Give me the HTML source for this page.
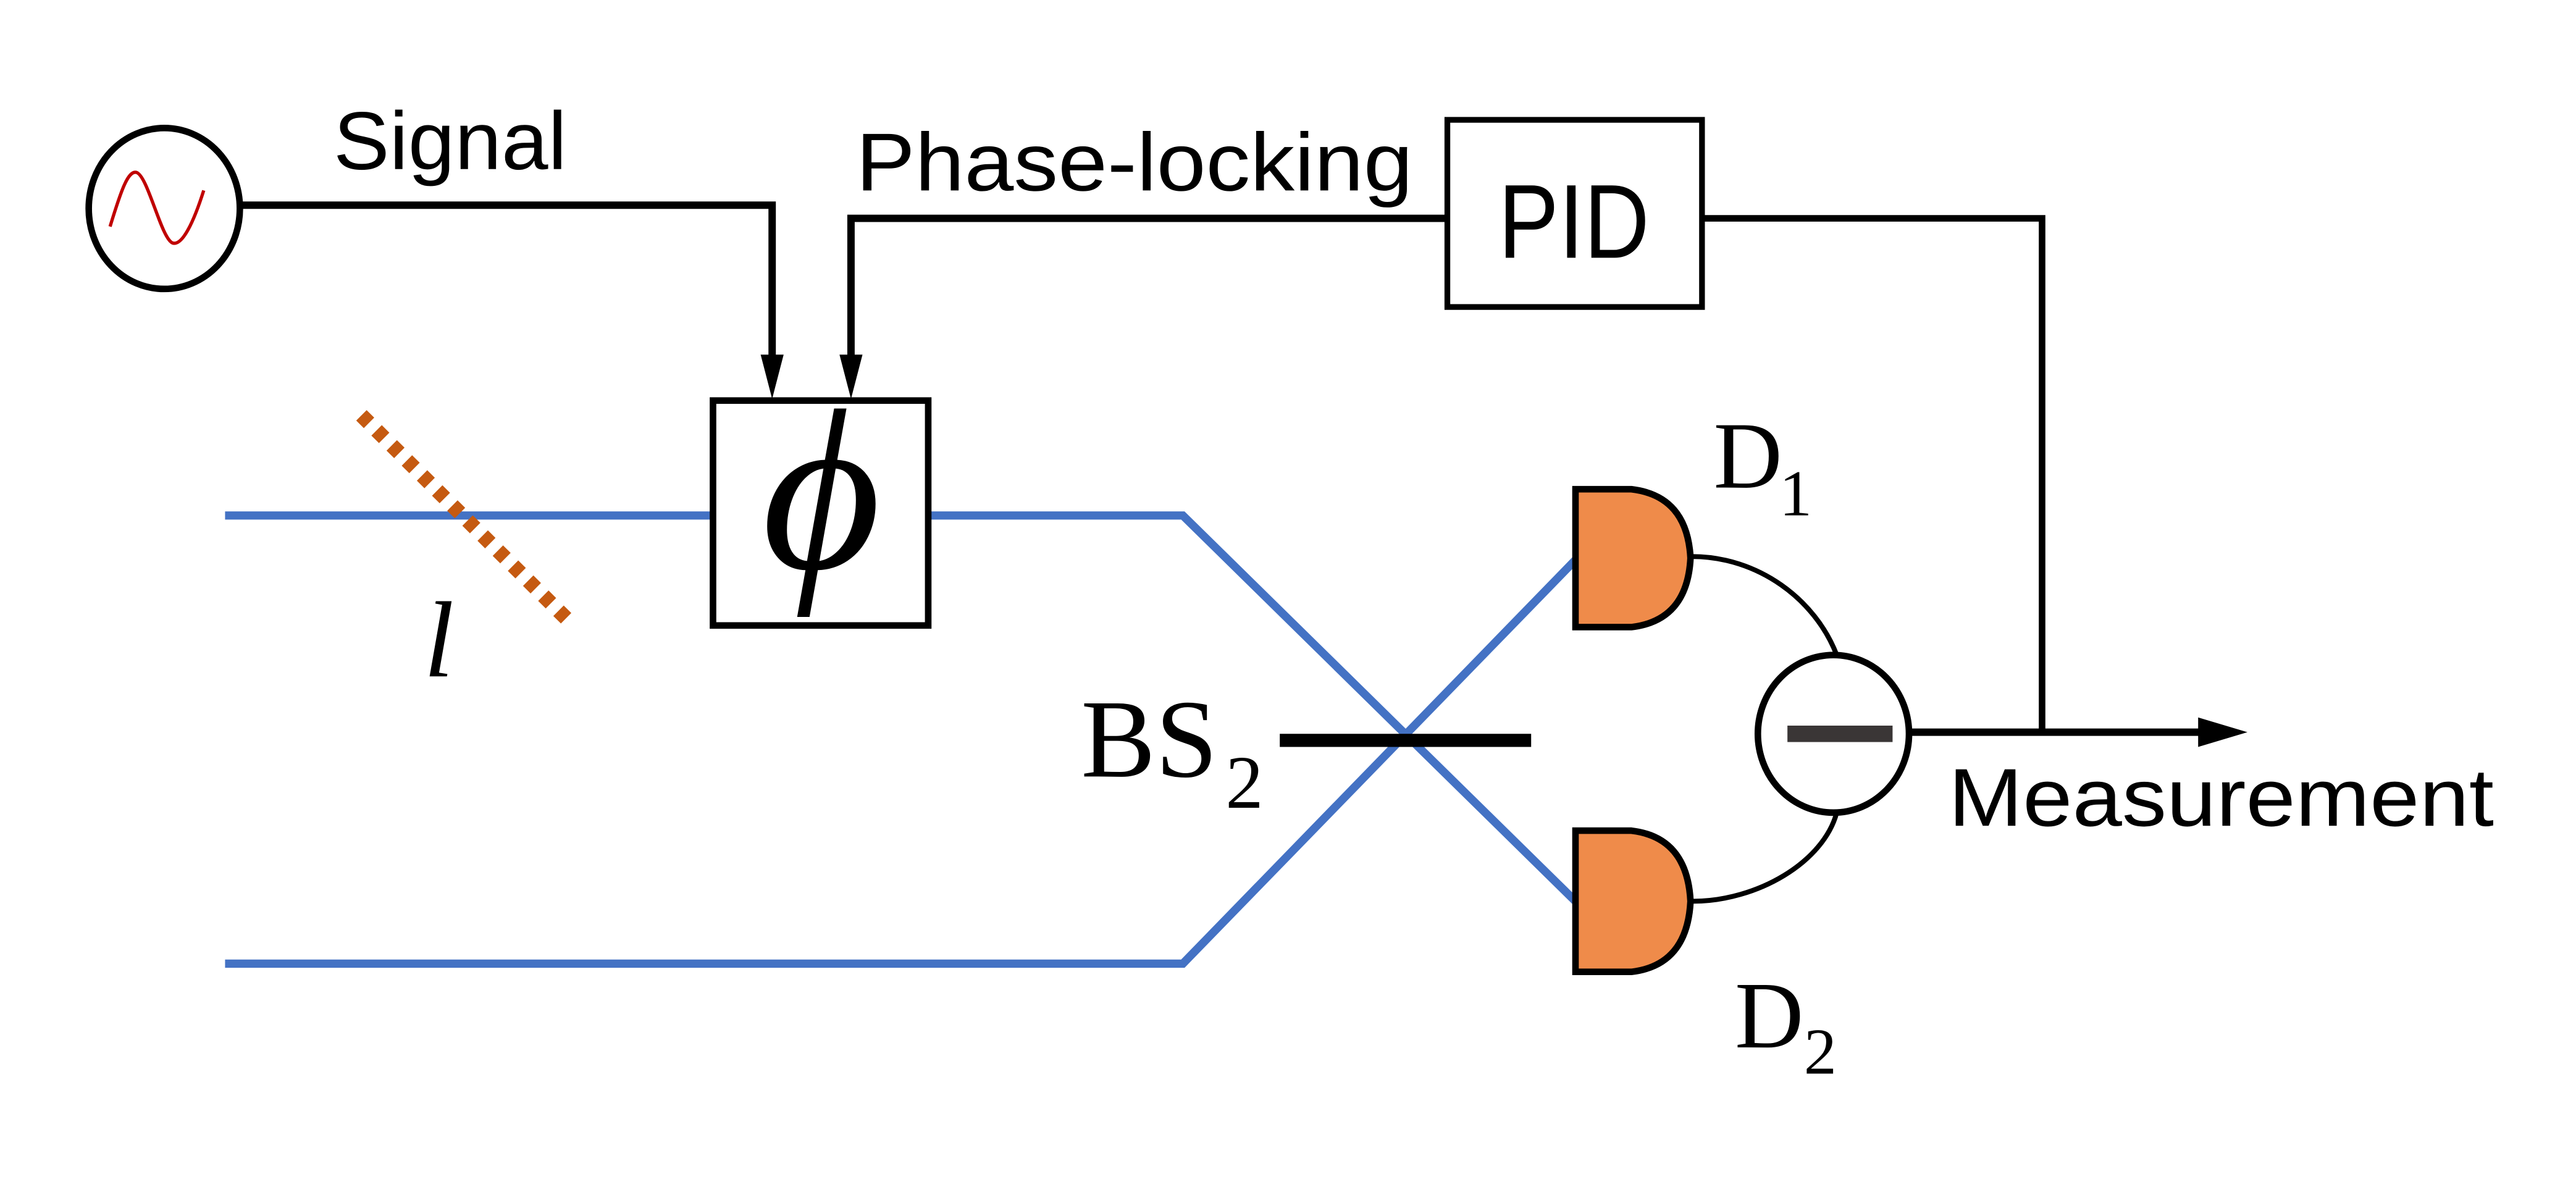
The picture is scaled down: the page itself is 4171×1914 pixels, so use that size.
<!DOCTYPE html>
<html><head><style>html,body{margin:0;padding:0;background:#fff}svg{display:block}</style></head>
<body>
<svg width="4171" height="1914" viewBox="0 0 1568 720" preserveAspectRatio="none" xmlns="http://www.w3.org/2000/svg">
<rect width="1568" height="720" fill="#fff"/>
<!-- oscillator -->
<ellipse cx="100" cy="127" rx="46" ry="49" fill="#fff" stroke="#000" stroke-width="4"/>
<path d="M67,138 C74,115 78,104 83,105 C90,107 98,145 105,148 C111,150 118,135 124,116" fill="none" stroke="#c00000" stroke-width="2"/>
<!-- signal line -->
<polyline points="147,125 470,125 470,222" fill="none" stroke="#000" stroke-width="4.5"/>
<polygon points="463,216 477,216 470,243" fill="#000"/>
<text x="203" y="103" font-family="Liberation Sans, sans-serif" font-size="50" textLength="142" lengthAdjust="spacingAndGlyphs">Signal</text>
<!-- phase locking line -->
<polyline points="880,133 518,133 518,222" fill="none" stroke="#000" stroke-width="4.5"/>
<polygon points="511,216 525,216 518,243" fill="#000"/>
<text x="521" y="116" font-family="Liberation Sans, sans-serif" font-size="50" textLength="339" lengthAdjust="spacingAndGlyphs">Phase-locking</text>
<!-- PID -->
<rect x="881" y="73" width="155" height="114" fill="#fff" stroke="#000" stroke-width="3.5"/>
<text x="958" y="157" text-anchor="middle" font-family="Liberation Sans, sans-serif" font-size="64" textLength="92" lengthAdjust="spacingAndGlyphs">PID</text>
<polyline points="1037,133 1243,133 1243,447" fill="none" stroke="#000" stroke-width="4"/>
<!-- blue beams -->
<g stroke="#4472c4" stroke-width="5" fill="none">
<line x1="137" y1="314" x2="433" y2="314"/>
<polyline points="566,314 720,314 960,550"/>
<polyline points="137,587 720,587 960,340"/>
</g>
<!-- dotted orange -->
<line x1="220" y1="253" x2="348" y2="380" stroke="#c55a11" stroke-width="9" stroke-dasharray="6.5 6.5"/>
<text x="258" y="412" font-family="Liberation Serif, serif" font-style="italic" font-size="66">l</text>
<!-- phi box -->
<rect x="434" y="244" width="131" height="137" fill="#fff" stroke="#000" stroke-width="4"/>
<text x="500" y="346" text-anchor="middle" font-family="Liberation Serif, serif" font-style="italic" font-size="140">ϕ</text>
<!-- BS2 -->
<line x1="779" y1="451" x2="932" y2="451" stroke="#000" stroke-width="8"/>
<text x="658" y="473" font-family="Liberation Serif, serif" font-size="68">BS</text>
<text x="746" y="492" font-family="Liberation Serif, serif" font-size="46">2</text>
<!-- detectors -->
<path d="M959,298 H993 Q1027,302 1029,340 Q1027,378 993,382 H959 Z" fill="#ef8b4a" stroke="#000" stroke-width="4"/>
<path d="M959,506 H993 Q1027,510 1029,549 Q1027,588 993,592 H959 Z" fill="#ef8b4a" stroke="#000" stroke-width="4"/>
<path d="M1030,339 C1070,339 1105,365 1118,399" fill="none" stroke="#000" stroke-width="3"/>
<path d="M1030,549 C1070,549 1110,525 1118,495" fill="none" stroke="#000" stroke-width="3"/>
<ellipse cx="1116" cy="447" rx="46" ry="48" fill="#fff" stroke="#000" stroke-width="4"/>
<rect x="1088" y="442" width="64" height="10" fill="#3a3636"/>
<text x="1043" y="297" font-family="Liberation Serif, serif" font-size="58">D</text>
<text x="1083" y="314" font-family="Liberation Serif, serif" font-size="40">1</text>
<text x="1056" y="638" font-family="Liberation Serif, serif" font-size="58">D</text>
<text x="1098" y="654" font-family="Liberation Serif, serif" font-size="40">2</text>
<!-- output -->
<line x1="1162" y1="446" x2="1345" y2="446" stroke="#000" stroke-width="4.5"/>
<polygon points="1338,437 1368,446 1338,455" fill="#000"/>
<text x="1186" y="503" font-family="Liberation Sans, sans-serif" font-size="50" textLength="332" lengthAdjust="spacingAndGlyphs">Measurement</text>
</svg>
</body></html>
